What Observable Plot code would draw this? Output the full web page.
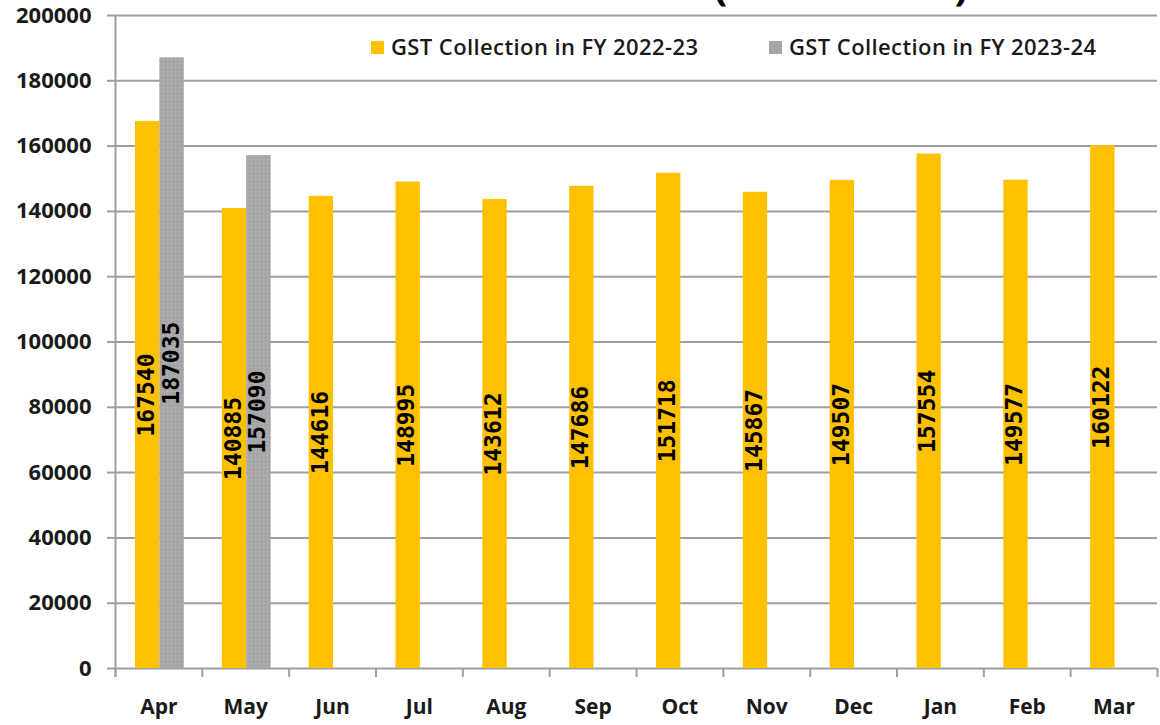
<!DOCTYPE html>
<html><head><meta charset="utf-8">
<script src="https://cdn.jsdelivr.net/npm/d3@7"></script>
<script src="https://cdn.jsdelivr.net/npm/@observablehq/plot@0.6"></script>
<style>
body{margin:0;background:#fff;overflow:hidden}
#wrap{position:relative;width:1160px;height:725px;overflow:hidden}
#title{position:absolute;top:-35px;right:192px;font:bold 40px "Open Sans",sans-serif;line-height:40px;white-space:nowrap;color:#000}
#legend{position:absolute;top:0;left:0;font:600 22px "Open Sans",sans-serif;color:#1a1a1a;letter-spacing:0.4px}
#legend .item{position:absolute;top:32px;white-space:nowrap;line-height:28px}
#legend .sw{display:inline-block;width:13px;height:13px;margin-right:7px;vertical-align:1px}
</style></head><body>
<div id="wrap"><div id="title">Month-wise GST Collection (Rs. in Crore)</div><div id="legend"></div></div>
<script>
const months = ["Apr","May","Jun","Jul","Aug","Sep","Oct","Nov","Dec","Jan","Feb","Mar"];
const seriesNames = ["GST Collection in FY 2022-23","GST Collection in FY 2023-24"];
const fy2223 = [167540,140885,144616,148995,143612,147686,151718,145867,149507,157554,149577,160122];
const fy2324 = [187035,157090];
const yTicks = [0,20000,40000,60000,80000,100000,120000,140000,160000,180000,200000];
const colors = ["#FFC000","#A6A6A6"];

const rows = [];
months.forEach((m,i)=>{
  if (fy2223[i] != null) rows.push({month:m, series:seriesNames[0], value:fy2223[i]});
  if (fy2324[i] != null) rows.push({month:m, series:seriesNames[1], value:fy2324[i]});
});
const r0 = rows.filter(d=>d.series===seriesNames[0]);
const r1 = rows.filter(d=>d.series===seriesNames[1]);

const W = 1160, H = 725, mL = 115, mR = 3, mT = 15, mB = 57;
const step = (W - mL - mR) / months.length;
const grid = "#9f9f9f";

const chart = Plot.plot({
  width: W, height: H,
  marginLeft: mL, marginRight: mR, marginTop: mT, marginBottom: mB,
  style: {background:"#fff", color:"#000", overflow:"visible"},
  x: {domain: months, padding: 0, round: false, label: null},
  y: {domain: [0, 200000], label: null},
  marks: [
    Plot.ruleY(yTicks, {stroke: grid, strokeWidth: 2}),
    Plot.barY(r0, {x:"month", y:"value", fill: colors[0], insetLeft: 20, insetRight: 42.5}),
    Plot.barY(r1, {x:"month", y:"value", fill: "url(#stip)", insetLeft: 44.3, insetRight: 18}),
    Plot.ruleX(months, {x: d=>d, dx: -step/2, y1: 0, y2: 0, insetBottom: -9, stroke: grid, strokeWidth: 2}),
    Plot.ruleX(months.slice(-1), {x: d=>d, dx: step/2, y1: 0, y2: 0, insetBottom: -9, stroke: grid, strokeWidth: 2}),
    Plot.ruleX(months.slice(0,1), {x: d=>d, dx: -step/2, y1: 200000, y2: 0, insetBottom: -9, stroke: grid, strokeWidth: 2}),
    Plot.axisY({ticks: yTicks, tickSize: 8, tickPadding: 16, tickFormat: d=>String(d), stroke: grid, strokeWidth: 2,
      fontSize: 22, fontWeight: "bold", fontFamily: "Open Sans", fill: "#1a1a1a", label: null}),
    Plot.axisX({tickSize: 0, tickPadding: 31, fontSize: 21, fontWeight: "bold", fontFamily: "Open Sans", fill: "#1a1a1a", label: null}),
    Plot.text(r0, {x:"month", y: d=>d.value/2, text: d=>String(d.value), rotate: -90, dx: -12.3,
      fontFamily: "DejaVu Sans Mono", fontWeight: "bold", fontSize: 23, fill: "#000"}),
    Plot.text(r1, {x:"month", y: d=>d.value/2, text: d=>String(d.value), rotate: -90, dx: 12.3,
      fontFamily: "DejaVu Sans Mono", fontWeight: "bold", fontSize: 23, fill: "#000"})
  ]
});
chart.insertAdjacentHTML("afterbegin",
  '<defs><pattern id="stip" width="4" height="4" patternUnits="userSpaceOnUse">' +
  '<rect width="4" height="4" fill="#a8a8a8"/><rect x="1" y="1" width="1" height="1" fill="#969696"/>' +
  '<rect x="3" y="3" width="1" height="1" fill="#b4b4b4"/></pattern></defs>');
document.getElementById("wrap").prepend(chart);

const legend = document.getElementById("legend");
const legendLeft = [371, 769];
seriesNames.forEach((s,i)=>{
  const it = document.createElement("div");
  it.className = "item";
  it.style.left = legendLeft[i] + "px";
  it.innerHTML = `<span class="sw" style="background:${colors[i]}"></span>${s}`;
  legend.appendChild(it);
});
</script>
</body></html>
